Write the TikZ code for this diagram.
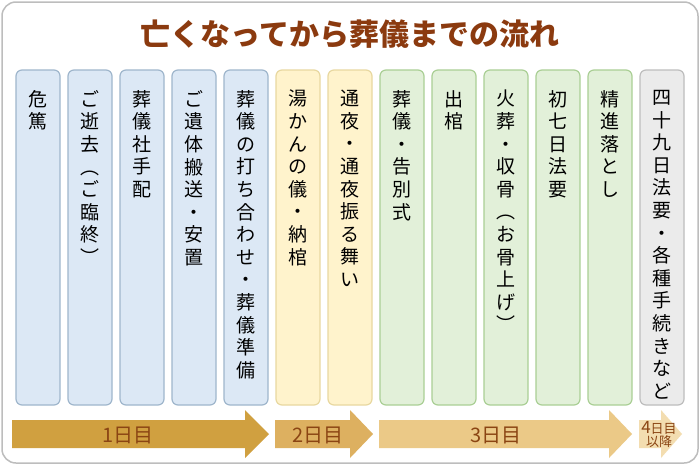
\documentclass[tikz,border=0pt]{standalone}
\usepackage{fontspec}
\newfontfamily\cjk{Noto Sans CJK JP}
\definecolor{bF}{HTML}{DCE8F5}\definecolor{bD}{HTML}{9FB6CC}
\definecolor{yF}{HTML}{FFF3CC}\definecolor{yD}{HTML}{E8D8A0}
\definecolor{gF}{HTML}{E2F0D9}\definecolor{gD}{HTML}{AACF95}
\definecolor{kF}{HTML}{EBEBEB}\definecolor{kD}{HTML}{BDBDBD}
\definecolor{ttl}{HTML}{8B3A0F}\definecolor{lab}{HTML}{8B4513}
\definecolor{a1}{HTML}{D0A040}\definecolor{a2}{HTML}{DDB060}
\definecolor{a3}{HTML}{EBC987}\definecolor{a4}{HTML}{F3DDB0}
\begin{document}
\begin{tikzpicture}[x=1pt,y=-1pt,
  col/.style={rounded corners=6pt,line width=1.2pt},
  vtxt/.style={anchor=north,align=center,font=\cjk\fontsize{19}{22.6}\selectfont,inner sep=0pt},
  alab/.style={font=\cjk\fontsize{20}{20}\selectfont,text=lab}]
\useasboundingbox (0,0) rectangle (700,466);
\draw[rounded corners=14pt,line width=1.5pt,draw=kD,fill=white] (2,2) rectangle (698,463);
\node[font=\cjk\bfseries\fontsize{30}{32}\selectfont,text=ttl] (title) at (350,34) {亡くなってから葬儀までの流れ};
\foreach \i/\f/\d/\t in {0/bF/bD/危\\篤,1/bF/bD/ご\\逝\\去\\︵\\ご\\臨\\終\\︶,2/bF/bD/葬\\儀\\社\\手\\配,3/bF/bD/ご\\遺\\体\\搬\\送\\・\\安\\置,4/bF/bD/葬\\儀\\の\\打\\ち\\合\\わ\\せ\\・\\葬\\儀\\準\\備,5/yF/yD/湯\\か\\ん\\の\\儀\\・\\納\\棺,6/yF/yD/通\\夜\\・\\通\\夜\\振\\る\\舞\\い,7/gF/gD/葬\\儀\\・\\告\\別\\式,8/gF/gD/出\\棺,9/gF/gD/火\\葬\\・\\収\\骨\\︵\\お\\骨\\上\\げ\\︶,10/gF/gD/初\\七\\日\\法\\要,11/gF/gD/精\\進\\落\\と\\し,12/kF/kD/四\\十\\九\\日\\法\\要\\・\\各\\種\\手\\続\\き\\な\\ど}{
  \pgfmathsetmacro\xl{16+52*\i}
  \draw[col,fill=\f,draw=\d] (\xl,70) rectangle ++(44,335);
  \node[vtxt] (c\i) at (\xl+22,90) {\t};
}
\fill[a1] (12,420) -- (245,420) -- (245,410) -- (269,434) -- (245,458) -- (245,448) -- (12,448) -- cycle;
\fill[a2] (275,420) -- (350,420) -- (350,410) -- (373,434) -- (350,458) -- (350,448) -- (275,448) -- cycle;
\fill[a3] (379,420) -- (609,420) -- (609,410) -- (632,434) -- (609,458) -- (609,448) -- (379,448) -- cycle;
\fill[a4] (639,420) -- (661,420) -- (661,410) -- (682,434) -- (661,458) -- (661,448) -- (639,448) -- cycle;
\node[alab] (l1) at (128,435) {1日目};
\node[alab] (l2) at (318,435) {2日目};
\node[alab] (l3) at (496,435) {3日目};
\node[font=\cjk\fontsize{13}{13}\selectfont,text=lab,align=center,inner sep=0pt] (l4) at (659,434) {{\fontsize{17}{14}\selectfont 4}日目\\以降};
\end{tikzpicture}
\end{document}
